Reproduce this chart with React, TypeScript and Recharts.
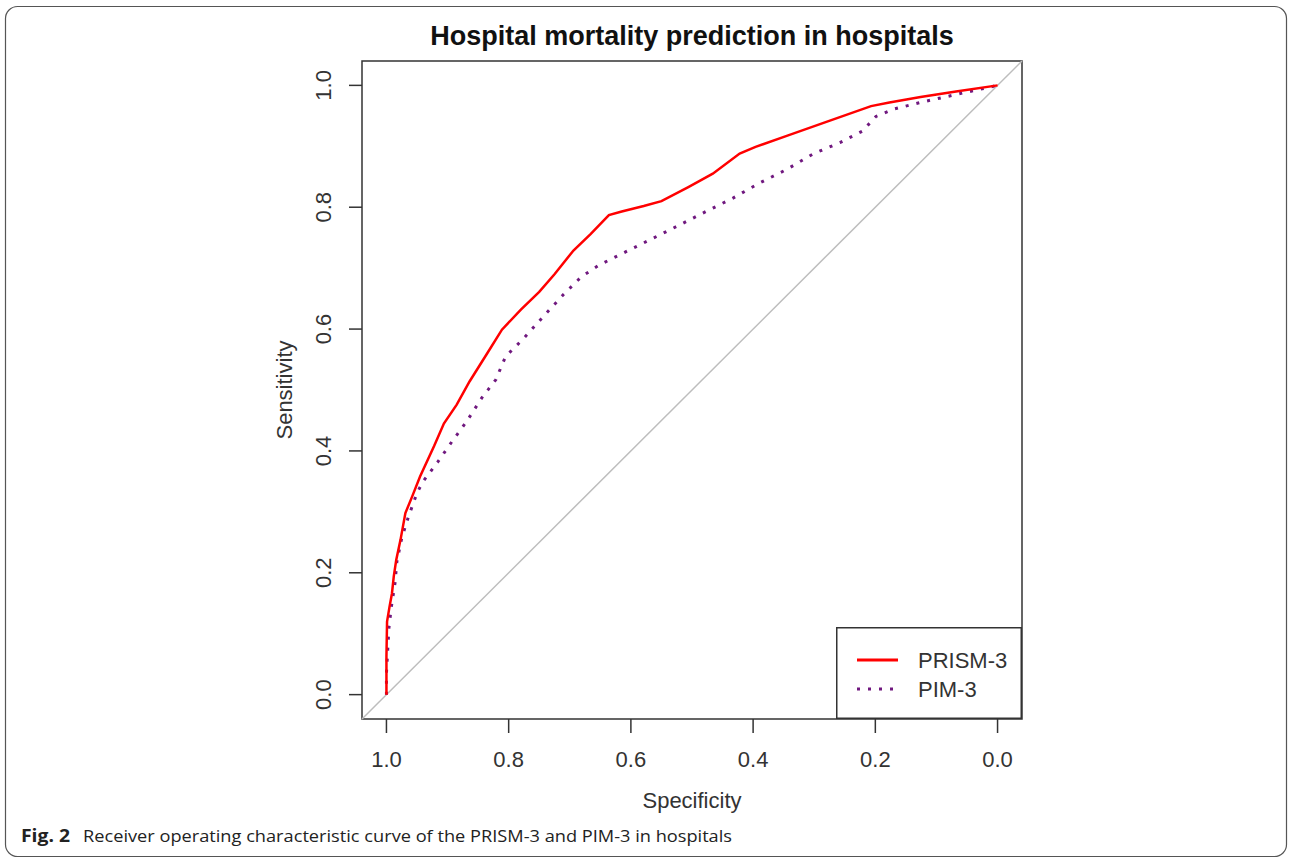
import React from "react";
import { LineChart, Line, XAxis, YAxis, ReferenceLine, ReferenceArea, Label, Legend } from "recharts";

// ROC curves (specificity runs 1 -> 0 left to right)
const prismSpec = [1.0, 1.0, 0.999, 0.995, 0.991, 0.988, 0.984, 0.977, 0.969, 0.958, 0.945, 0.922, 0.906, 0.885, 0.864, 0.834, 0.811, 0.78, 0.75, 0.725, 0.694, 0.666, 0.636, 0.615, 0.579, 0.55, 0.506, 0.466, 0.422, 0.396, 0.345, 0.272, 0.207, 0.177, 0.126, 0.068, 0.0];
const prismSens = [0, 0.062, 0.12, 0.144, 0.166, 0.194, 0.221, 0.254, 0.298, 0.325, 0.358, 0.408, 0.445, 0.476, 0.514, 0.562, 0.599, 0.632, 0.661, 0.69, 0.729, 0.756, 0.787, 0.793, 0.802, 0.81, 0.833, 0.855, 0.888, 0.899, 0.917, 0.943, 0.966, 0.972, 0.981, 0.99, 1.0];

const pimSpec = [1.0, 1.0, 0.996, 0.992, 0.986, 0.983, 0.975, 0.964, 0.95, 0.94, 0.916, 0.893, 0.869, 0.844, 0.821, 0.805, 0.776, 0.743, 0.71, 0.681, 0.652, 0.608, 0.564, 0.52, 0.477, 0.433, 0.389, 0.345, 0.301, 0.258, 0.221, 0.199, 0.17, 0.126, 0.068, 0.0];
const pimSens = [0, 0.035, 0.109, 0.144, 0.183, 0.218, 0.257, 0.292, 0.331, 0.35, 0.382, 0.415, 0.448, 0.487, 0.517, 0.555, 0.584, 0.621, 0.657, 0.686, 0.705, 0.727, 0.749, 0.771, 0.793, 0.815, 0.84, 0.862, 0.888, 0.906, 0.925, 0.949, 0.961, 0.972, 0.985, 1.0];

const xTicks = [1.0, 0.8, 0.6, 0.4, 0.2, 0.0];
const yTicks = [0.0, 0.2, 0.4, 0.6, 0.8, 1.0];

const prismData = prismSpec.map((s, i) => ({ spec: s, sens: prismSens[i] }));
const pimData = pimSpec.map((s, i) => ({ spec: s, sens: pimSens[i] }));

const FONT = "'Liberation Sans', Arial, sans-serif";
const AXIS = "#333";
const RED = "#ff0000";
const PURPLE = "#70187f";

const YTick = (props: any) => {
    const { x, y, payload } = props;
    return (
        <text x={x} y={y} transform={`rotate(-90 ${x} ${y})`} textAnchor="middle" fontSize={22} fontFamily={FONT} fill={AXIS}>
            {payload.value.toFixed(1)}
        </text>
    );
};

const LegendBox = () => (
    <svg width={186} height={92} style={{ display: "block" }}>
        <rect x={0.75} y={0.75} width={184.5} height={90.5} fill="white" stroke={AXIS} strokeWidth={1.5} />
        <line x1={21} x2={62} y1={33} y2={33} stroke={RED} strokeWidth={3} />
        <text x={82} y={41} fontSize={22} fontFamily={FONT} fill={AXIS}>PRISM-3</text>
        <line x1={21} x2={62} y1={62} y2={62} stroke={PURPLE} strokeWidth={3} strokeDasharray="3 8" />
        <text x={82} y={70} fontSize={22} fontFamily={FONT} fill={AXIS}>PIM-3</text>
    </svg>
);

export default function App() {
    return (
        <div style={{ position: "absolute", left: 0, top: 0, width: 1290, height: 859, background: "white", overflow: "hidden" }}>
            <LineChart width={1290} height={859} margin={{ top: 61, right: 268, bottom: 0, left: 262 }}>
                <XAxis
                    type="number"
                    dataKey="spec"
                    domain={[-0.04, 1.04]}
                    reversed
                    ticks={xTicks}
                    tickFormatter={(v: number) => v.toFixed(1)}
                    height={140}
                    axisLine={false}
                    tickSize={14}
                    tickMargin={18}
                    tickLine={{ stroke: AXIS, strokeWidth: 1.5 }}
                    tick={{ fill: AXIS, fontSize: 22, fontFamily: FONT }}
                    allowDataOverflow
                >
                    <Label
                        content={({ viewBox }: any) => (
                            <text x={viewBox.x + viewBox.width / 2} y={808} textAnchor="middle" fontSize={22} fontFamily={FONT} fill={AXIS}>
                                Specificity
                            </text>
                        )}
                    />
                </XAxis>
                <YAxis
                    type="number"
                    domain={[-0.04, 1.04]}
                    ticks={yTicks}
                    width={100}
                    axisLine={false}
                    tickSize={13}
                    tickMargin={18}
                    tickLine={{ stroke: AXIS, strokeWidth: 1.5 }}
                    tick={<YTick />}
                    allowDataOverflow
                >
                    <Label
                        content={({ viewBox }: any) => {
                            const cx = 292;
                            const cy = viewBox.y + viewBox.height / 2;
                            return (
                                <text x={cx} y={cy} transform={`rotate(-90 ${cx} ${cy})`} textAnchor="middle" fontSize={22} fontFamily={FONT} fill={AXIS}>
                                    Sensitivity
                                </text>
                            );
                        }}
                    />
                </YAxis>
                <ReferenceLine
                    segment={[{ x: 1.04, y: -0.04 }, { x: -0.04, y: 1.04 }]}
                    stroke="#bdbdbd"
                    strokeWidth={1.5}
                />
                <Line data={pimData} dataKey="sens" type="linear" stroke={PURPLE} strokeWidth={3} strokeDasharray="3 8" dot={false} isAnimationActive={false} />
                <Line data={prismData} dataKey="sens" type="linear" stroke={RED} strokeWidth={2.5} dot={false} isAnimationActive={false} />
                <ReferenceArea x1={-0.04} x2={1.04} y1={-0.04} y2={1.04} fill="none" stroke={AXIS} strokeWidth={1.5} ifOverflow="visible" />
                <Legend
                    layout="horizontal"
                    align="center"
                    verticalAlign="middle"
                    content={() => <LegendBox />}
                    wrapperStyle={{ left: 836, top: 627, width: 186, height: 92 }}
                />
            </LineChart>
            <svg width={1290} height={859} style={{ position: "absolute", left: 0, top: 0, pointerEvents: "none" }}>
                <rect x={5.5} y={6.5} width={1281} height={850} rx={12} fill="none" stroke="#555" strokeWidth={1.2} />
                <text x={692} y={45} textAnchor="middle" fontSize={27} fontWeight="bold" fontFamily={FONT} fill="#111">
                    Hospital mortality prediction in hospitals
                </text>
                <text x={21} y={842} fontSize={17} fontWeight="bold" fontFamily="'Open Sans', sans-serif" fill="#222" textLength={49} lengthAdjust="spacingAndGlyphs">
                    Fig. 2
                </text>
                <text x={83} y={842} fontSize={17} fontFamily="'Open Sans', sans-serif" fill="#222" textLength={649} lengthAdjust="spacingAndGlyphs">
                    Receiver operating characteristic curve of the PRISM-3 and PIM-3 in hospitals
                </text>
            </svg>
        </div>
    );
}
